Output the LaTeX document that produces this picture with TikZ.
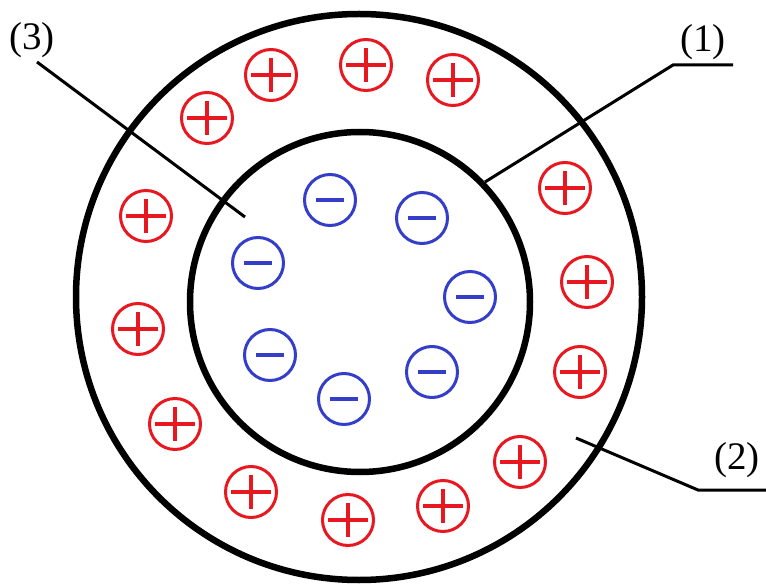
\documentclass[tikz,border=0pt]{standalone}
\usepackage{fontspec}
\setmainfont{Liberation Serif}
\definecolor{plusred}{RGB}{232,24,32}
\definecolor{minusblue}{RGB}{52,62,200}
\begin{document}
\begin{tikzpicture}[x=1pt,y=-1pt,
 charge/.style={circle, minimum size=51pt, inner sep=0pt, line width=3pt},
 poscharge/.style={charge, draw=plusred, path picture={\draw[plusred,line width=4pt]
   ([xshift=-20pt]path picture bounding box.center) -- ([xshift=20pt]path picture bounding box.center)
   ([yshift=-17pt]path picture bounding box.center) -- ([yshift=17pt]path picture bounding box.center);}},
 negcharge/.style={charge, draw=minusblue, path picture={\draw[minusblue,line width=4pt]
   ([xshift=-14pt]path picture bounding box.center) -- ([xshift=14pt]path picture bounding box.center);}},
 shell/.style={line width=6.5pt},
 leader/.style={line width=3pt},
 lbl/.style={font=\fontsize{39}{40}\selectfont, inner sep=0pt}]
\useasboundingbox (0,0) rectangle (766,585);
% shells
\draw[shell] (359,297) circle (283pt);
\draw[shell] (360,302) circle (170pt);
% positive charges
\node[poscharge] (p1) at (207,118) {};
\node[poscharge] (p2) at (271,75) {};
\node[poscharge] (p3) at (366,65) {};
\node[poscharge] (p4) at (453,80) {};
\node[poscharge] (p5) at (565,188) {};
\node[poscharge] (p6) at (146,216) {};
\node[poscharge] (p7) at (587,282) {};
\node[poscharge] (p8) at (138,329) {};
\node[poscharge] (p9) at (580,372) {};
\node[poscharge] (p10) at (175,424) {};
\node[poscharge] (p11) at (520,462) {};
\node[poscharge] (p12) at (251,492) {};
\node[poscharge] (p13) at (443,506) {};
\node[poscharge] (p14) at (348,520) {};
% negative charges
\node[negcharge] (n1) at (330,200) {};
\node[negcharge] (n2) at (422,218) {};
\node[negcharge] (n3) at (258,263) {};
\node[negcharge] (n4) at (470,297) {};
\node[negcharge] (n5) at (270,355) {};
\node[negcharge] (n6) at (432,372) {};
\node[negcharge] (n7) at (344,399) {};
% labels
\node[lbl] (l3) at (32,40) {(3)};
\node[lbl] (l1) at (703,42) {(1)};
\node[lbl] (l2) at (737,460) {(2)};
% leader points
\coordinate (a3) at (37,62);
\coordinate (e3) at (245,217);
\coordinate (h1) at (733,65);
\coordinate (c1) at (673,65);
\coordinate (e1) at (485,182);
\coordinate (e2) at (576,438);
\coordinate (c2) at (698,490);
\coordinate (h2) at (766,490);
\draw[leader] (a3) -- (e3);
\draw[leader] (h1) -- (c1) -- (e1);
\draw[leader] (e2) -- (c2) -- (h2);
\end{tikzpicture}
\end{document}
